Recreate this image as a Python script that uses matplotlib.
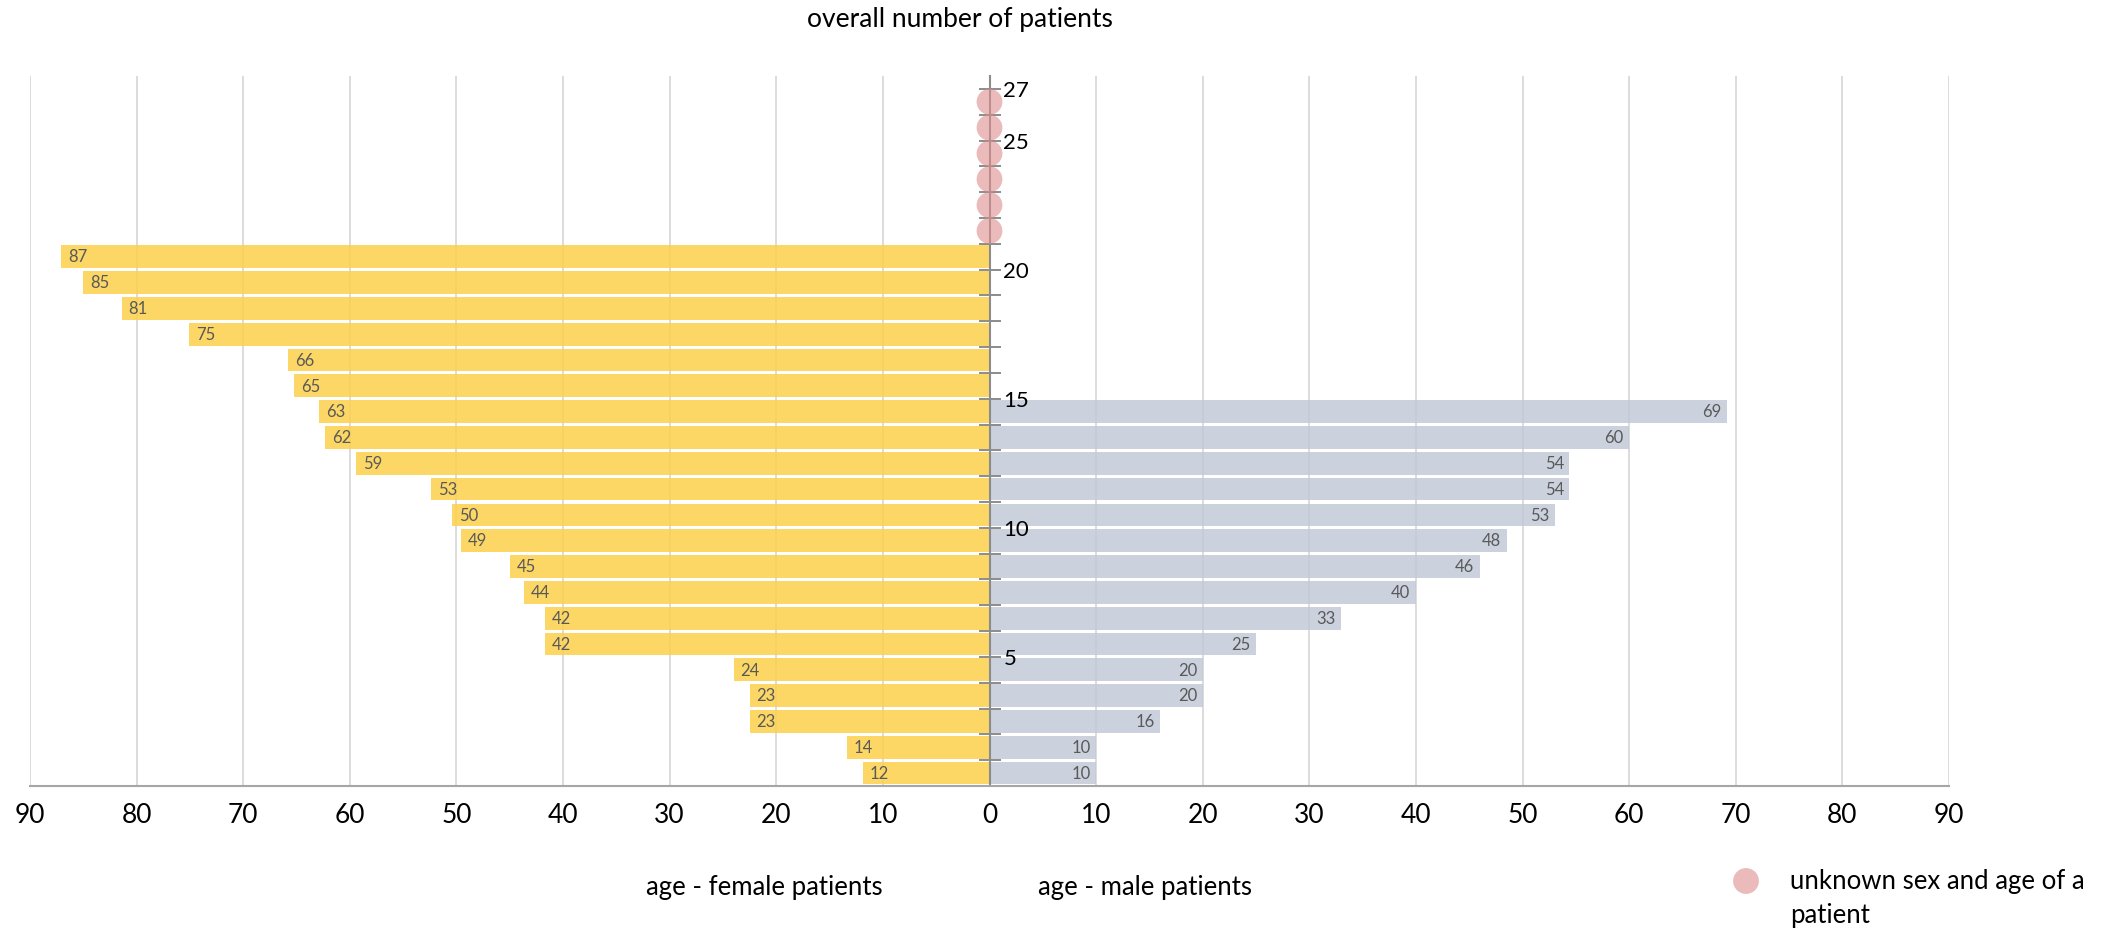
import numpy as np
import matplotlib
matplotlib.use("Agg")
import matplotlib.pyplot as plt
from matplotlib.ticker import FuncFormatter

plt.rcParams['font.family'] = ['Lato', 'DejaVu Sans']

# ---- data (bottom row first) ----
female_ages = [11.9, 13.4, 22.5, 22.5, 24.0, 41.7, 41.7, 43.7, 45.0, 49.6, 50.4,
               52.4, 59.4, 62.3, 62.9, 65.2, 65.8, 75.1, 81.4, 85.0, 87.1]
female_labels = ["12", "14", "23", "23", "24", "42", "42", "44", "45", "49", "50",
                 "53", "59", "62", "63", "65", "66", "75", "81", "85", "87"]
male_ages = [10, 10, 16, 20, 20, 25, 33, 40, 46, 48.5, 53, 54.4, 54.4, 60, 69.2]
male_labels = ["10", "10", "16", "20", "20", "25", "33", "40", "46", "48", "53",
               "54", "54", "60", "69"]
unknown_patients = [22, 23, 24, 25, 26, 27]   # patient numbers with unknown sex/age
x_ticks = [-90, -80, -70, -60, -50, -40, -30, -20, -10, 0, 10, 20, 30, 40, 50, 60, 70, 80, 90]
y_ticks = list(range(1, 28))
y_labelled = [5, 10, 15, 20, 25, 27]

W, H = 2103, 932
fig = plt.figure(figsize=(W / 100, H / 100), dpi=100)
ax = fig.add_axes([30 / W, 1 - 786 / H, (1949 - 30) / W, (786 - 76) / H])

female_rows = np.arange(1, len(female_ages) + 1) - 0.5
male_rows = np.arange(1, len(male_ages) + 1) - 0.5

ax.barh(female_rows, -np.array(female_ages), height=0.88, color='#FCD04B',
        alpha=0.85, zorder=1, linewidth=0)
ax.barh(male_rows, male_ages, height=0.88, color='#C2CAD8',
        alpha=0.85, zorder=1, linewidth=0)

ax.scatter(np.zeros(len(unknown_patients)), np.array(unknown_patients) - 0.5,
           s=345, color='#DE8C8C', alpha=0.6, edgecolors='none', zorder=3)

for y, a, lbl in zip(female_rows, female_ages, female_labels):
    ax.annotate(lbl, xy=(-a, y), xytext=(5, -0.5), textcoords='offset points',
                ha='left', va='center', fontsize=12, color='#595959')
for y, a, lbl in zip(male_rows, male_ages, male_labels):
    ax.annotate(lbl, xy=(a, y), xytext=(-4, -0.5), textcoords='offset points',
                ha='right', va='center', fontsize=12, color='#595959')

ax.set_xlim(-90, 90)
ax.set_ylim(0, 27.5)

ax.set_xticks(x_ticks)
ax.xaxis.set_major_formatter(FuncFormatter(lambda v, p: f"{abs(int(round(v)))}"))
ax.xaxis.grid(True, color='#d9d9d9', linewidth=1.3)
ax.xaxis.set_zorder(0.5)
ax.yaxis.set_zorder(2.6)
ax.tick_params(axis='x', length=0, pad=12, labelsize=19, labelcolor='black')

ax.yaxis.set_ticks_position('right')
ax.spines['right'].set_position(('data', 0))
ax.set_yticks(y_ticks)
ax.yaxis.set_major_formatter(FuncFormatter(
    lambda v, p: str(int(round(v))) if int(round(v)) in y_labelled else ""))
ax.tick_params(axis='y', direction='inout', length=16, width=1.4, color='#8c8c8c',
               pad=2, labelsize=16, labelcolor='black')

ax.spines['left'].set_visible(False)
ax.spines['top'].set_visible(False)
ax.spines['right'].set_color('#8c8c8c')
ax.spines['right'].set_linewidth(1.5)
ax.spines['right'].set_zorder(2.5)
ax.spines['bottom'].set_color('#a6a6a6')
ax.spines['bottom'].set_linewidth(1.5)

fig.text(960 / W, 1 - 20 / H, 'overall number of patients', ha='center', va='center',
         fontsize=19, color='black')
fig.text(764 / W, 1 - 888 / H, 'age - female patients', ha='center', va='center',
         fontsize=18.5, color='black')
fig.text(1145 / W, 1 - 888 / H, 'age - male patients', ha='center', va='center',
         fontsize=18.5, color='black')

# legend
ax.scatter([1746 / W], [1 - 881 / H], transform=fig.transFigure, s=345,
           color='#DE8C8C', alpha=0.6, edgecolors='none', clip_on=False)
fig.text(1790 / W, 1 - 882 / H, 'unknown sex and age of a', ha='left', va='center',
         fontsize=18.5, color='black')
fig.text(1790 / W, 1 - 915 / H, 'patient', ha='left', va='center',
         fontsize=18.5, color='black')

fig.savefig('out.png', dpi=100)
